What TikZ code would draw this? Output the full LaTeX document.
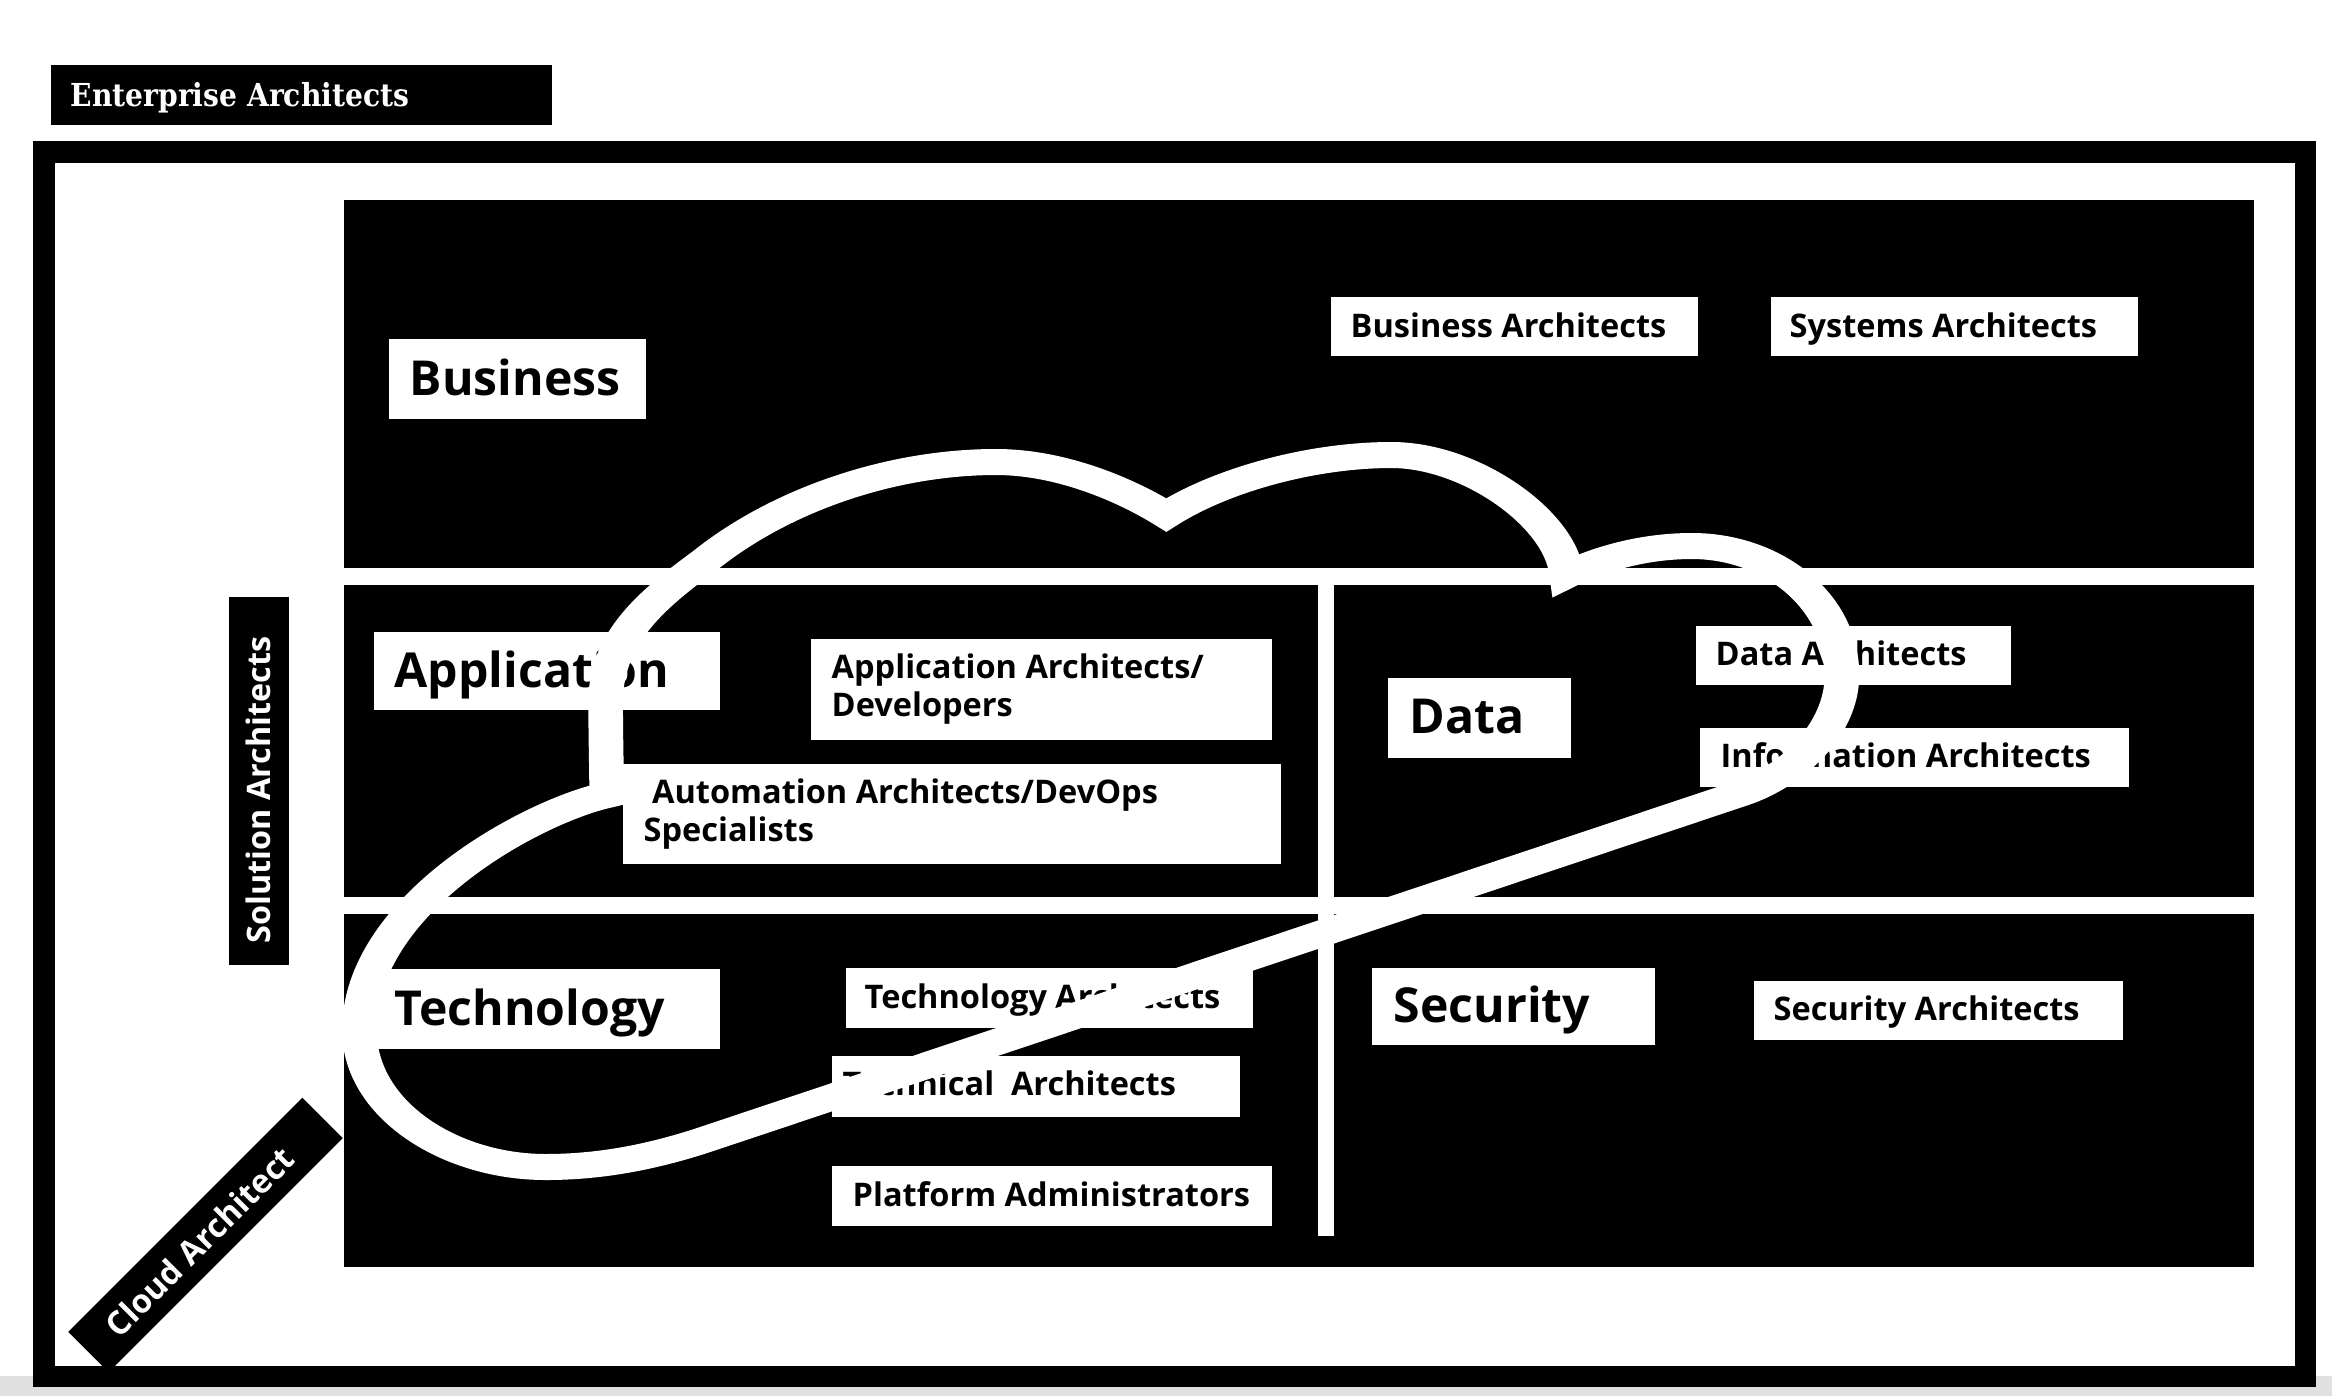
\documentclass[tikz,border=0pt]{standalone}
\usepackage{graphicx}
\usepackage{fontspec}
\setmainfont{Open Sans}
\newfontfamily\lbl{Open Sans}
\newfontfamily\entfont{DejaVu Serif}
\definecolor{bandgray}{gray}{0.88}
\tikzset{
  wbox/.style={fill=white, draw=none, inner sep=0pt, anchor=north west},
  bigtxt/.style={font=\lbl\bfseries\fontsize{13.7}{16}\selectfont, text=black, inner sep=0pt, anchor=base west},
  smalltxt/.style={font=\lbl\bfseries\fontsize{9.25}{10.6}\selectfont, text=black, inner sep=0pt, anchor=base west, align=left},
  darktag/.style={fill=black, inner sep=0pt},
  darktxt/.style={text=white, inner sep=0pt, font=\lbl\bfseries\fontsize{9.2}{11}\selectfont},
  cloudline/.style={white, line width=0.26cm, line join=miter, miter limit=10},
}
\begin{document}
\begin{tikzpicture}[x=0.01cm, y=-0.01cm]
\useasboundingbox (0,0) rectangle (2332,1396);
\fill[white] (0,0) rectangle (2332,1396);
\fill[bandgray] (0,1376) rectangle (2332,1396);

% Enterprise Architects tag
\node[darktag, anchor=north west, minimum width=5.01cm, minimum height=0.60cm] (ent) at (50,64) {};
\node[anchor=base west, text=white, inner sep=0pt, font={\entfont\bfseries\fontsize{9}{10}\selectfont}] (entt) at (70,106) {\scalebox{0.89}[1]{Enterprise Architects}};

% main black panel
\fill[black] (344,200) rectangle (2254,1267);
\fill[white] (344,568) rectangle (2254,585);
\fill[white] (344,897) rectangle (2254,914);
\fill[white] (1318,585) rectangle (1334,1236);

% boxes below the cloud
\node[wbox, minimum width=2.57cm, minimum height=0.80cm] (bus) at (388,338) {};
\node[bigtxt] (bust) at (409,395) {Business};
\node[wbox, minimum width=3.67cm, minimum height=0.59cm] (busarch) at (1330,296) {};
\node[smalltxt] (busarcht) at (1350,337) {Business Architects};
\node[wbox, minimum width=3.67cm, minimum height=0.59cm] (sysarch) at (1770,296) {};
\node[smalltxt] (sysarcht) at (1789,337) {Systems Architects};

\node[wbox, minimum width=3.46cm, minimum height=0.78cm] (app) at (373,631) {};
\node[bigtxt] (appt) at (394,687) {Application};
\node[wbox, minimum width=4.61cm, minimum height=1.01cm] (apparch) at (810,638) {};
\node[smalltxt] (apparcht) at (831,716) {Application Architects/\\Developers};

\node[wbox, minimum width=1.83cm, minimum height=0.80cm] (data) at (1387,677) {};
\node[bigtxt] (datat) at (1409,733) {Data};
\node[wbox, minimum width=3.15cm, minimum height=0.59cm] (dataarch) at (1695,625) {};
\node[smalltxt] (dataarcht) at (1715,665) {Data Architects};
\node[wbox, minimum width=4.29cm, minimum height=0.59cm] (info) at (1699,727) {};
\node[smalltxt] (infot) at (1720,767) {Information Architects};

\node[wbox, minimum width=3.46cm, minimum height=0.80cm] (tech) at (373,968) {};
\node[bigtxt] (techt) at (394,1025) {Technology};
\node[wbox, minimum width=4.07cm, minimum height=0.60cm] (techarch) at (845,967) {};
\node[smalltxt] (techarcht) at (864,1008) {Technology Architects};
\node[wbox, minimum width=4.08cm, minimum height=0.61cm] (technical) at (831,1055) {};
\node[smalltxt] (technicalt) at (842,1095) {Technical\ \ Architects};
\node[wbox, minimum width=4.40cm, minimum height=0.60cm] (platform) at (831,1165) {};
\node[smalltxt] (platformt) at (852,1206) {Platform Administrators};

\node[wbox, minimum width=2.83cm, minimum height=0.77cm] (sec) at (1371,967) {};
\node[bigtxt] (sect) at (1393,1022) {Security};
\node[wbox, minimum width=3.69cm, minimum height=0.59cm] (secarch) at (1753,980) {};
\node[smalltxt] (secarcht) at (1773,1020) {Security Architects};

% cloud outline (icon stretched horizontally)
\begin{scope}[x=0.0075188cm, transform canvas={xscale=1.33}]
\draw[cloudline] (1165,515)
  .. controls (1125,490) and (1060,462) .. (995,462)
  .. controls (890,462) and (780,500) .. (705,560)
  .. controls (655,597) and (606,635) .. (605,700)
  .. controls (605,740) and (606,770) .. (606,795)
  .. controls (530,812) and (359,905) .. (359,1030)
  .. controls (359,1110) and (450,1167) .. (545,1167)
  .. controls (600,1167) and (650,1157) .. (700,1141)
  -- (1740,793)
  .. controls (1790,776) and (1840,730) .. (1840,675)
  .. controls (1840,600) and (1770,546) .. (1690,546)
  .. controls (1640,546) and (1595,560) .. (1565,575)
  .. controls (1560,520) and (1470,455) .. (1390,455)
  .. controls (1310,455) and (1220,480) .. cycle;
\end{scope}

% box above the cloud
\node[wbox, minimum width=6.58cm, minimum height=1.00cm] (auto) at (622,763) {};
\node[smalltxt] (autot) at (643,841) {\ Automation Architects/DevOps\\Specialists};

% side tags
\node[darktag, anchor=north west, minimum width=0.60cm, minimum height=3.68cm] (solarch) at (228,596) {};
\node[darktxt, rotate=90] (solarcht) at (258,790) {Solution Architects};
\node[darktag, rotate=45, minimum width=3.31cm, minimum height=0.57cm] (cloudarch) at (205.5,1235) {};
\node[darktxt, rotate=45, font=\lbl\bfseries\fontsize{9.3}{11}\selectfont] (cloudarcht) at (199.5,1242) {Cloud Architect};

% outer frame
\draw[black, line width=0.215cm] (43.75,151.75) rectangle (2305.25,1376.25);
\end{tikzpicture}
\end{document}
